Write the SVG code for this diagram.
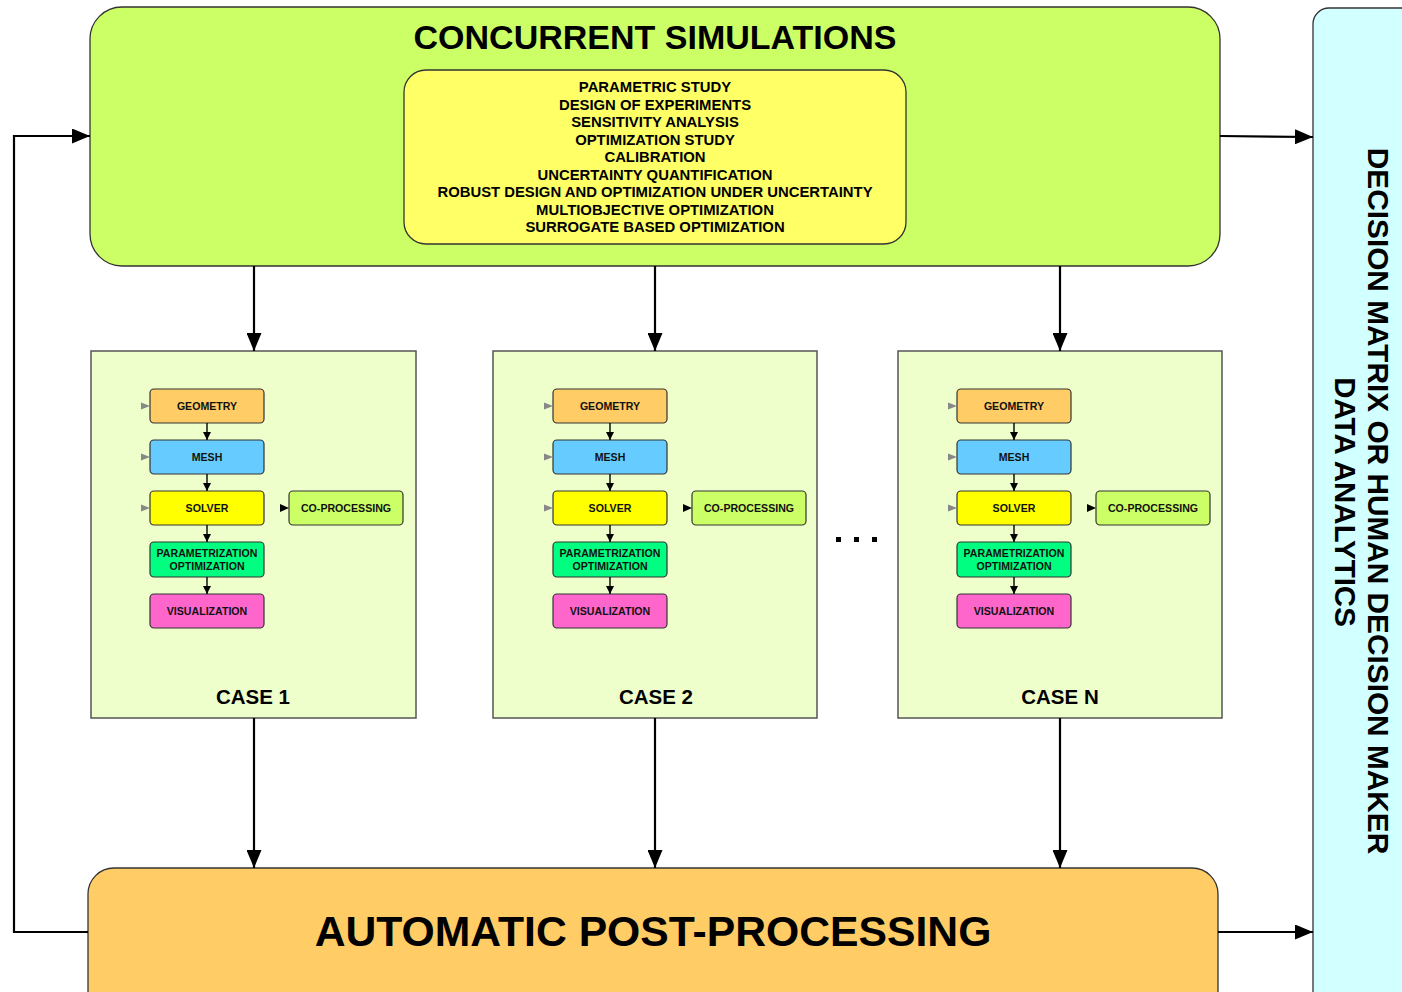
<svg xmlns="http://www.w3.org/2000/svg" width="1402" height="992" viewBox="0 0 1402 992">
  <style>
    text { font-family: "Liberation Sans", Arial, sans-serif; font-weight: bold; fill: #000; }
    .big { stroke: #333; stroke-width: 1.3; }
    .case { fill: #EEFFCC; stroke: #555; stroke-width: 1.5; }
    .sub { stroke: #333; stroke-width: 1.2; }
    .st { font-size: 10.6px; text-anchor: middle; fill: #111; }
    .list { font-size: 14.85px; text-anchor: middle; }
    .cl { font-size: 20.5px; text-anchor: middle; }
    .wire { fill: none; stroke: #000; stroke-width: 2.2; }
    .tiny { fill: none; stroke: #000; stroke-width: 1.4; }
  </style>
  <defs>
    <marker id="arr" markerUnits="userSpaceOnUse" markerWidth="18" markerHeight="15" refX="18" refY="7.5" orient="auto">
      <path d="M0,0 L18,7.5 L0,15 z" fill="#000"/>
    </marker>
    <marker id="sarr" markerUnits="userSpaceOnUse" markerWidth="8" markerHeight="8" refX="8" refY="4" orient="auto">
      <path d="M0,0 L8,4 L0,8 z" fill="#000"/>
    </marker>
    <path id="tipGray" d="M-9,-3.5 L0,0 L-9,3.5 z" fill="#888"/>
    <path id="tipBlack" d="M-9,-4 L0,0 L-9,4 z" fill="#000"/>

    <!-- one case workflow, reused for each case -->
    <g id="flow">
      <g id="geometry">
        <rect class="sub" x="150" y="389" width="114" height="34" rx="4" fill="#FFCC66"/>
        <text class="st" x="207" y="409.8">GEOMETRY</text>
      </g>
      <g id="mesh">
        <rect class="sub" x="150" y="440" width="114" height="34" rx="4" fill="#66CCFF"/>
        <text class="st" x="207" y="460.8">MESH</text>
      </g>
      <g id="solver">
        <rect class="sub" x="150" y="491" width="114" height="34" rx="4" fill="#FFFF00"/>
        <text class="st" x="207" y="511.8">SOLVER</text>
      </g>
      <g id="param">
        <rect class="sub" x="150" y="542" width="114" height="35" rx="4" fill="#00FF80"/>
        <text class="st" x="207" y="556.8">PARAMETRIZATION</text>
        <text class="st" x="207" y="569.8">OPTIMIZATION</text>
      </g>
      <g id="visual">
        <rect class="sub" x="150" y="594" width="114" height="34" rx="4" fill="#FF66CC"/>
        <text class="st" x="207" y="614.8">VISUALIZATION</text>
      </g>
      <g id="coproc">
        <rect class="sub" x="289" y="491" width="114" height="34" rx="4" fill="#CCFF66"/>
        <text class="st" x="346" y="511.8">CO-PROCESSING</text>
      </g>
      <g id="flowLinks">
        <line class="tiny" x1="207" y1="423" x2="207" y2="440" marker-end="url(#sarr)"/>
        <line class="tiny" x1="207" y1="474" x2="207" y2="491" marker-end="url(#sarr)"/>
        <line class="tiny" x1="207" y1="525" x2="207" y2="542" marker-end="url(#sarr)"/>
        <line class="tiny" x1="207" y1="577" x2="207" y2="594" marker-end="url(#sarr)"/>
        <use href="#tipGray" x="150" y="406"/>
        <use href="#tipGray" x="150" y="457"/>
        <use href="#tipGray" x="150" y="508"/>
        <use href="#tipBlack" x="289" y="508"/>
      </g>
    </g>
  </defs>

  <rect width="1402" height="992" fill="#fff"/>

  <!-- decision maker column -->
  <g id="decision">
    <rect class="big" x="1313" y="8" width="120" height="1010" rx="16" fill="#D2FFFF"/>
    <text transform="translate(1368,501) rotate(90)" font-size="29.8" text-anchor="middle">DECISION MATRIX OR HUMAN DECISION MAKER</text>
    <text transform="translate(1335,502) rotate(90)" font-size="29.5" text-anchor="middle">DATA ANALYTICS</text>
  </g>

  <!-- concurrent simulations -->
  <g id="concurrent">
    <rect class="big" x="90" y="7" width="1130" height="259" rx="32" fill="#CCFF66"/>
    <text x="655" y="49" font-size="34" text-anchor="middle">CONCURRENT SIMULATIONS</text>
    <rect class="big" x="404" y="70" width="502" height="174" rx="22" fill="#FFFF66"/>
    <text class="list" x="655" y="92.3">PARAMETRIC STUDY</text>
    <text class="list" x="655" y="109.8">DESIGN OF EXPERIMENTS</text>
    <text class="list" x="655" y="127.3">SENSITIVITY ANALYSIS</text>
    <text class="list" x="655" y="144.8">OPTIMIZATION STUDY</text>
    <text class="list" x="655" y="162.3">CALIBRATION</text>
    <text class="list" x="655" y="179.8">UNCERTAINTY QUANTIFICATION</text>
    <text class="list" x="655" y="197.3">ROBUST DESIGN AND OPTIMIZATION UNDER UNCERTAINTY</text>
    <text class="list" x="655" y="214.8">MULTIOBJECTIVE OPTIMIZATION</text>
    <text class="list" x="655" y="232.3">SURROGATE BASED OPTIMIZATION</text>
  </g>

  <!-- cases -->
  <g id="case1">
    <rect class="case" x="91" y="351" width="325" height="367"/>
    <use href="#flow"/>
    <text class="cl" x="253" y="704">CASE 1</text>
  </g>
  <g id="case2">
    <rect class="case" x="493" y="351" width="324" height="367"/>
    <use href="#flow" x="403"/>
    <text class="cl" x="656" y="704">CASE 2</text>
  </g>
  <g id="dots" fill="#000">
    <rect x="836" y="537" width="5" height="5"/>
    <rect x="854" y="537" width="5" height="5"/>
    <rect x="872" y="537" width="5" height="5"/>
  </g>
  <g id="caseN">
    <rect class="case" x="898" y="351" width="324" height="367"/>
    <use href="#flow" x="807"/>
    <text class="cl" x="1060" y="704">CASE N</text>
  </g>

  <!-- post-processing -->
  <g id="postproc">
    <rect class="big" x="88" y="868" width="1130" height="160" rx="26" fill="#FFCC66"/>
    <text x="653" y="946" font-size="42.7" text-anchor="middle">AUTOMATIC POST-PROCESSING</text>
  </g>

  <!-- connectors -->
  <g id="connectors">
    <line class="wire" x1="254" y1="266" x2="254" y2="351" marker-end="url(#arr)"/>
    <line class="wire" x1="655" y1="266" x2="655" y2="351" marker-end="url(#arr)"/>
    <line class="wire" x1="1060" y1="266" x2="1060" y2="351" marker-end="url(#arr)"/>
    <line class="wire" x1="254" y1="718" x2="254" y2="868" marker-end="url(#arr)"/>
    <line class="wire" x1="655" y1="718" x2="655" y2="868" marker-end="url(#arr)"/>
    <line class="wire" x1="1060" y1="718" x2="1060" y2="868" marker-end="url(#arr)"/>
    <polyline class="wire" points="88,932 14,932 14,136 90,136" marker-end="url(#arr)"/>
    <line class="wire" x1="1220" y1="136" x2="1313" y2="137" marker-end="url(#arr)"/>
    <line class="wire" x1="1218" y1="932" x2="1313" y2="932" marker-end="url(#arr)"/>
  </g>
</svg>
